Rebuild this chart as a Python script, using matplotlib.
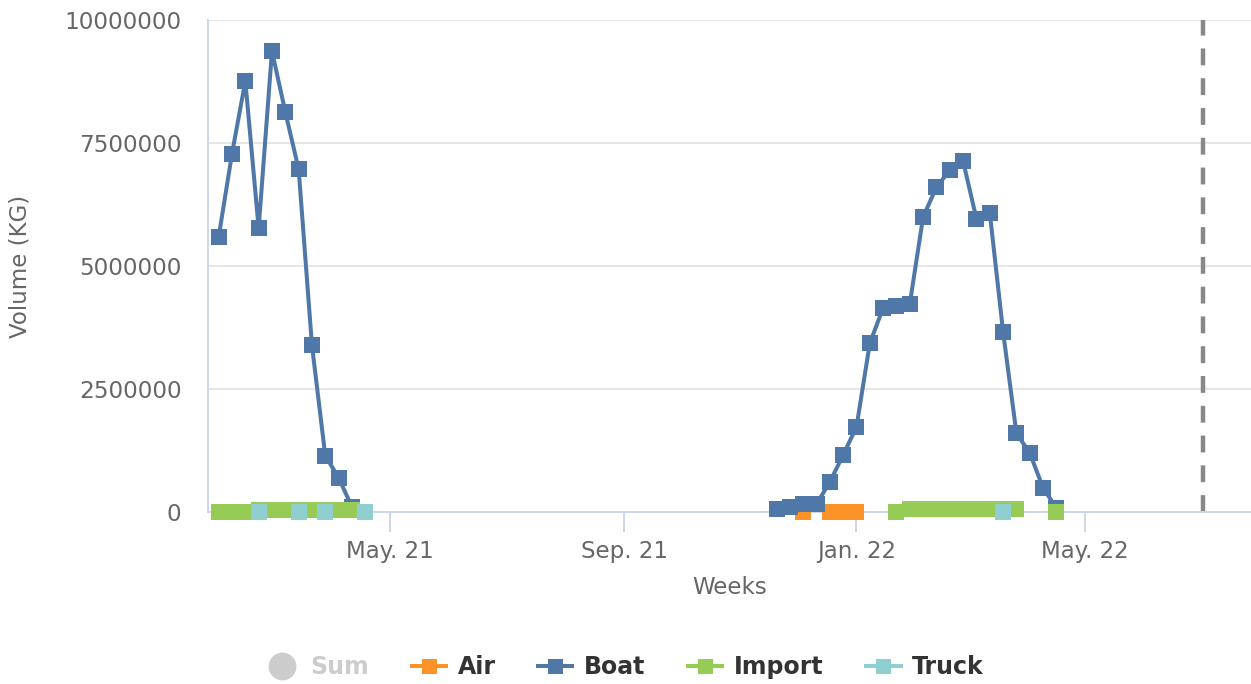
import pandas as pd
import matplotlib
matplotlib.use("Agg")
import matplotlib.pyplot as plt
from matplotlib.lines import Line2D

# weekly volumes (KG), two seasons
weeks_2021 = pd.date_range("2021-01-31", periods=12, freq="7D")
boat_2021 = [5590000, 7280000, 8760000, 5770000, 9370000, 8130000, 6970000,
             3390000, 1140000, 700000, 100000, None]
import_2021 = [8000, 8000, 8000, 45000, 45000, 45000, 45000, 45000, 45000,
               45000, 45000, None]
truck_2021 = [None, None, None, 5000, None, None, 5000, None, 5000, None,
              None, 5000]
air_2021 = [None] * 12

weeks_2022 = pd.date_range("2021-11-20", periods=22, freq="7D")
boat_2022 = [60000, 100000, 160000, 160000, 610000, 1160000, 1730000, 3430000,
             4150000, 4190000, 4230000, 6000000, 6600000, 6950000, 7130000,
             5960000, 6080000, 3660000, 1600000, 1200000, 490000, 80000]
air_2022 = [None, None, 5000, None, 5000, 5000, 5000, None, None, None, None,
            None, None, None, None, None, None, None, None, None, None, None]
import_2022 = [None, None, None, None, None, None, None, None, None, 8000,
               55000, 55000, 55000, 55000, 55000, 55000, 55000, 55000, 55000,
               None, None, 8000]
truck_2022 = [None, None, None, None, None, None, None, None, None, None, None,
              None, None, None, None, None, None, 5000, None, None, None, None]

series_names = ["Air", "Boat", "Import", "Truck"]
colors = {"Air": "#fd9228", "Boat": "#4f78a8", "Import": "#96cc56", "Truck": "#8fcfcf"}
tick_dates = ["2021-05-01", "2021-09-01", "2022-01-01", "2022-05-01"]
tick_labels = ["May. 21", "Sep. 21", "Jan. 22", "May. 22"]
current_week = "2022-07-02"

data = {
    "Air": [(weeks_2021, air_2021), (weeks_2022, air_2022)],
    "Boat": [(weeks_2021, boat_2021), (weeks_2022, boat_2022)],
    "Import": [(weeks_2021, import_2021), (weeks_2022, import_2022)],
    "Truck": [(weeks_2021, truck_2021), (weeks_2022, truck_2022)],
}

plt.rcParams["font.family"] = ["DejaVu Sans"]

fig = plt.figure(figsize=(12.51, 6.84), dpi=100)
ax = fig.add_axes([208 / 1251, 1 - 512 / 684, 1043 / 1251, 492 / 684])

for z, name in enumerate(series_names):
    for weeks, vals in data[name]:
        y = [float("nan") if v is None else v for v in vals]
        ax.plot(weeks, y, color=colors[name], lw=2.9, marker="s", ms=12.2,
                mew=0, zorder=3 + z, clip_on=False)

ax.axvline(pd.Timestamp(current_week), color="#888888", lw=3.2,
           dashes=(3.8, 2.9), zorder=2)

ax.set_ylim(0, 10000000)
ax.set_yticks([0, 2500000, 5000000, 7500000, 10000000])
ax.set_yticklabels(["0", "2500000", "5000000", "7500000", "10000000"])
ax.set_xlim(pd.Timestamp("2021-05-01") - pd.Timedelta(days=95.6),
            pd.Timestamp("2022-05-01") + pd.Timedelta(days=87.2))
ax.set_xticks([pd.Timestamp(d) for d in tick_dates])
ax.set_xticklabels(tick_labels)

ax.grid(axis="y", color="#e6e6e6", lw=1.4)
ax.set_axisbelow(True)
for s in ["top", "right"]:
    ax.spines[s].set_visible(False)
for s in ["left", "bottom"]:
    ax.spines[s].set_color("#ccd6eb")
    ax.spines[s].set_linewidth(1.4)
ax.tick_params(axis="y", length=0, pad=19, labelsize=16.7, labelcolor="#666666")
ax.tick_params(axis="x", length=14.4, width=1.4, color="#ccd6eb", pad=6,
               labelsize=16.5, labelcolor="#666666")

ax.set_xlabel("Weeks", fontsize=16.5, color="#666666")
ax.set_ylabel("Volume (KG)", fontsize=16.5, color="#666666")
ax.xaxis.set_label_coords(0.5, -76 / 492)
ax.xaxis.label.set_va("center")
ax.yaxis.set_label_coords(-188 / 1043, 0.5)
ax.yaxis.label.set_va("center")

handles = [Line2D([], [], color="#cccccc", marker="o", ls="none", ms=19)]
for name in series_names:
    handles.append(Line2D([], [], color=colors[name], lw=2.9, marker="s", ms=10.8, mew=0))
leg = fig.legend(handles, ["Sum"] + series_names, loc="center",
                 bbox_to_anchor=(0.499, 1 - 667 / 684), ncol=5, frameon=False,
                 prop={"weight": "bold", "size": 17}, handlelength=1.45,
                 handletextpad=0.5, columnspacing=1.8)
for i, t in enumerate(leg.get_texts()):
    t.set_color("#cccccc" if i == 0 else "#333333")

fig.savefig("out.png", dpi=100)
